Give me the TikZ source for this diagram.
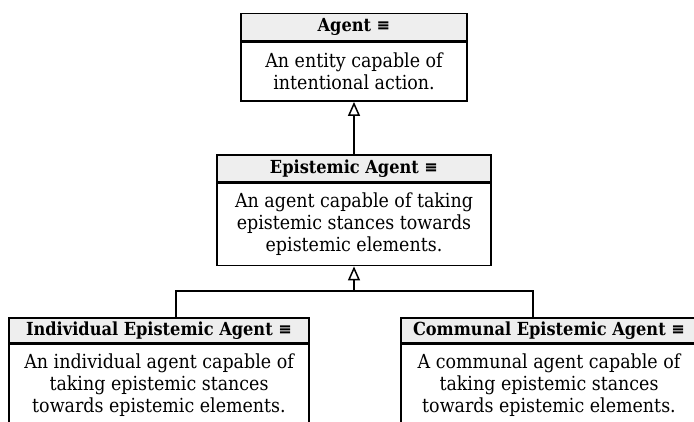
\documentclass[tikz,border=0pt]{standalone}
\usepackage{fontspec}
\setmainfont{DejaVu Serif Condensed}
\usetikzlibrary{arrows.meta}
\definecolor{hdrgray}{HTML}{EEEEEE}
\begin{document}
\begin{tikzpicture}[x=1pt,y=-1pt,
  box/.style={draw=black, line width=1.6pt, inner sep=0pt, align=center},
  hdr/.style={box, fill=hdrgray, minimum height=27pt, font=\bfseries\fontsize{18}{20}\selectfont},
  bodyt/.style={box, fill=white, anchor=north, font=\fontsize{19.4}{22}\selectfont},
  gen/.style={line width=1.6pt, -{Triangle[open, width=12pt, length=14pt, line width=1.5pt]}},
  conn/.style={line width=1.6pt}
]
\useasboundingbox (0,0) rectangle (694,421);
\clip (0,0) rectangle (694,421);
\fill[white] (0,0) rectangle (694,421);
% Agent
\node[hdr, minimum width=226pt] (agH) at (354,27) {Agent ≡};
\node[bodyt, minimum width=226pt, minimum height=59pt] (agB) at (agH.south) {An entity capable of\\intentional action.};
% Epistemic Agent
\node[hdr, minimum width=274pt] (epH) at (354,168.5) {Epistemic Agent ≡};
\node[bodyt, minimum width=274pt, minimum height=82pt] (epB) at (epH.south) {An agent capable of taking\\epistemic stances towards\\epistemic elements.};
% Individual
\node[hdr, minimum width=300pt, minimum height=25pt] (inH) at (159,330.5) {Individual Epistemic Agent ≡};
\node[bodyt, minimum width=300pt, minimum height=82pt] (inB) at (inH.south) {An individual agent capable of\\taking epistemic stances\\towards epistemic elements.};
% Communal
\node[hdr, minimum width=296pt, minimum height=25pt] (coH) at (549,330.5) {Communal Epistemic Agent ≡};
\node[bodyt, minimum width=296pt, minimum height=82pt] (coB) at (coH.south) {A communal agent capable of\\taking epistemic stances\\towards epistemic elements.};
% connectors
\draw[gen] (epH.north) -- (agB.south);
\coordinate (jm) at (354,291);
\coordinate (jl) at (176,291);
\coordinate (jr) at (533,291);
\draw[conn] (jl |- inH.north) -- (jl) -- (jr) -- (jr |- coH.north);
\draw[gen] (jm) -- (epB.south);
\end{tikzpicture}
\end{document}
